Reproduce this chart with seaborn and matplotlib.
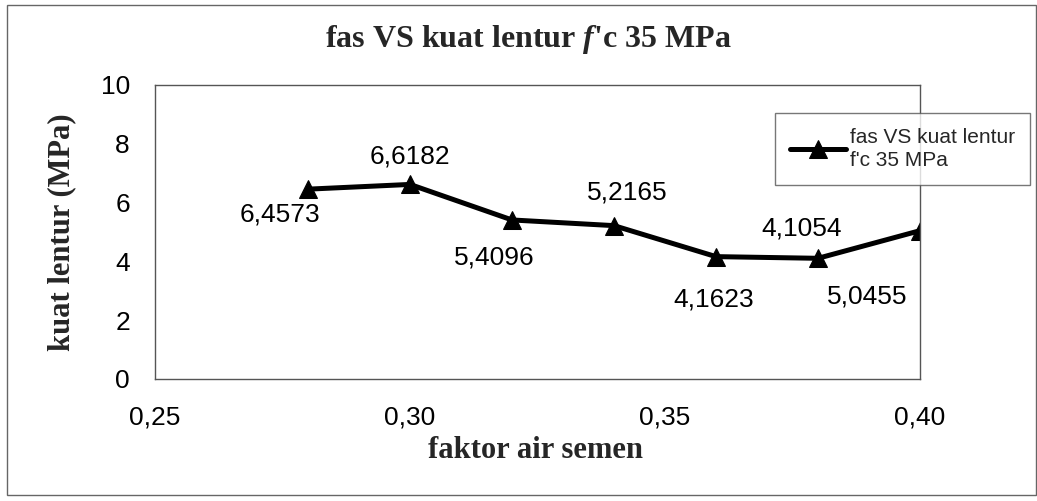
import matplotlib
matplotlib.use("Agg")
import matplotlib.pyplot as plt
import matplotlib.patches as mpatches
import seaborn as sns
import pandas as pd

# water-cement ratio vs flexural strength, f'c 35 MPa mix
fas = [0.28, 0.30, 0.32, 0.34, 0.36, 0.38, 0.40]
kuat_lentur = [6.4573, 6.6182, 5.4096, 5.2165, 4.1623, 4.1054, 5.0455]
x_ticks = [0.25, 0.30, 0.35, 0.40]
x_tick_labels = ["0,25", "0,30", "0,35", "0,40"]
y_ticks = [0, 2, 4, 6, 8, 10]
series_name = "fas VS kuat lentur\nf'c 35 MPa"

# pixel offsets of each value label from its point
label_offsets = [(-28, -25), (0, 28), (-18, -38), (13, 33), (-2, -43), (-16, 30), (-53, -66)]

sns.set_theme(style="white")
plt.rcParams["font.family"] = ["Liberation Sans", "DejaVu Sans"]
plt.rcParams["mathtext.fontset"] = "custom"
plt.rcParams["mathtext.it"] = "Liberation Serif:italic:bold"
plt.rcParams["mathtext.rm"] = "Liberation Serif:bold"

W, H = 1037, 501
fig = plt.figure(figsize=(W / 100, H / 100), dpi=100)
fig.patch.set_facecolor("white")

# chart area border
fig.patches.append(mpatches.Rectangle((7 / W, 1 - 495 / H), (W - 8) / W, 490 / H,
                                      transform=fig.transFigure, fill=False,
                                      edgecolor="#666666", linewidth=1.0))

left, right, top, bottom = 155, 920, 85, 379
ax = fig.add_axes([left / W, 1 - bottom / H, (right - left) / W, (bottom - top) / H])

df = pd.DataFrame({"fas": fas, "kuat": kuat_lentur})
sns.lineplot(data=df, x="fas", y="kuat", ax=ax, color="black", linewidth=3.6,
             marker="^", markersize=13, markeredgecolor="black",
             markerfacecolor="black", label=series_name)

for xv, yv, (dx, dy) in zip(fas, kuat_lentur, label_offsets):
    ax.annotate(f"{yv:.4f}".replace(".", ","), (xv, yv), xytext=(dx, dy),
                textcoords="offset pixels", ha="center", va="center",
                fontsize=19, color="black", family="Liberation Sans")

ax.set_xlim(0.25, 0.40)
ax.set_ylim(0, 10)
ax.set_xticks(x_ticks)
ax.set_xticklabels(x_tick_labels)
ax.set_yticks(y_ticks)
ax.tick_params(axis="both", labelsize=19, direction="out", length=7, width=0.8,
               color="#444444", labelcolor="black")
ax.tick_params(axis="y", pad=11)
ax.tick_params(axis="x", pad=12)
for side in ["left", "bottom", "top", "right"]:
    ax.spines[side].set_visible(True)
    ax.spines[side].set_color("#555555")
    ax.spines[side].set_linewidth(1.0)
ax.grid(False)

serif_bold = dict(family="Liberation Serif", fontweight="bold", fontsize=22)
ax.set_xlabel("faktor air semen", **serif_bold)
ax.set_ylabel("kuat lentur (MPa)", **serif_bold)
ax.xaxis.set_label_coords((535 - left) / (right - left), (bottom - 450) / (bottom - top))
ax.xaxis.label.set_verticalalignment("center")
ax.yaxis.set_label_coords((62 - left) / (right - left), 0.5)
ax.yaxis.label.set_verticalalignment("center")

fig.text(528 / W, 1 - 40 / H, r"fas VS kuat lentur $f$'c 35 MPa", ha="center", va="center",
         family="Liberation Serif", fontweight="bold", fontsize=23)

leg = ax.legend(loc="upper left", bbox_to_anchor=((775 - left) / (right - left), (bottom - 113) / (bottom - top)),
                bbox_transform=ax.transAxes, frameon=True, fancybox=False,
                fontsize=15, handlelength=2.7, handletextpad=0.2, borderpad=0.7,
                labelspacing=0.2, borderaxespad=0)
leg.get_frame().set_edgecolor("#555555")
leg.get_frame().set_linewidth(1.0)
for t in leg.get_texts():
    t.set_linespacing(1.3)

fig.savefig("out.png", dpi=100, facecolor="white")
